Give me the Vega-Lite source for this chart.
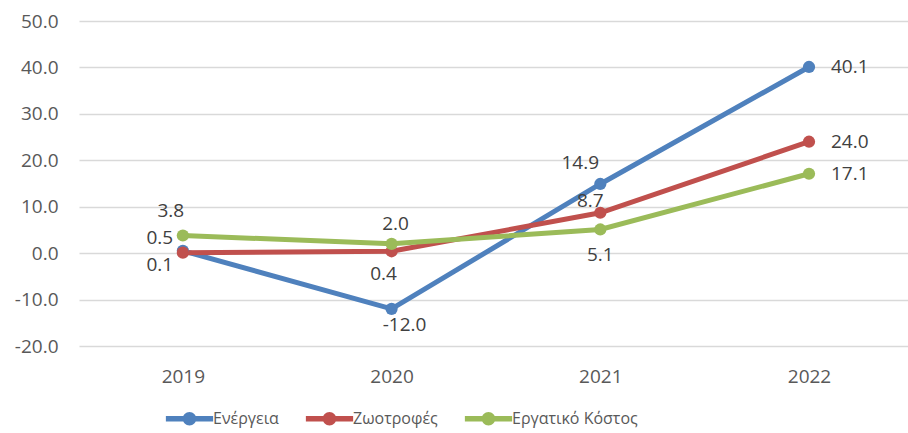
{
  "$schema": "https://vega.github.io/schema/vega-lite/v6.json",
  "width": 829,
  "height": 325,
  "autosize": {"type": "none"},
  "padding": {"left": 79, "top": 21, "right": 0, "bottom": 87},
  "background": "white",
  "config": {"view": {"stroke": null}, "font": "Open Sans",
    "locale": {"number": {"decimal": ".", "thousands": ",", "grouping": [3], "currency": ["$", ""], "minus": "-"}}},
  "data": {"values": [
    {"series": "Ενέργεια", "year": "2019", "value": 0.5},
    {"series": "Ενέργεια", "year": "2020", "value": -12.0},
    {"series": "Ενέργεια", "year": "2021", "value": 14.9},
    {"series": "Ενέργεια", "year": "2022", "value": 40.1},
    {"series": "Ζωοτροφές", "year": "2019", "value": 0.1},
    {"series": "Ζωοτροφές", "year": "2020", "value": 0.4},
    {"series": "Ζωοτροφές", "year": "2021", "value": 8.7},
    {"series": "Ζωοτροφές", "year": "2022", "value": 24.0},
    {"series": "Εργατικό Κόστος", "year": "2019", "value": 3.8},
    {"series": "Εργατικό Κόστος", "year": "2020", "value": 2.0},
    {"series": "Εργατικό Κόστος", "year": "2021", "value": 5.1},
    {"series": "Εργατικό Κόστος", "year": "2022", "value": 17.1}
  ]},
  "encoding": {
    "x": {"field": "year", "type": "ordinal", "scale": {"type": "point", "padding": 0.486, "align": 0.512},
      "axis": {"title": null, "domain": false, "ticks": false, "grid": false, "labelAngle": 0, "labelPadding": 21, "labelFontSize": 19, "labelColor": "#595959", "labelFont": "Open Sans"}},
    "y": {"field": "value", "type": "quantitative", "scale": {"domain": [-20, 50], "nice": false, "zero": false},
      "axis": {"title": null, "values": [-20, -10, 0, 10, 20, 30, 40, 50], "format": ".1f", "domain": false, "ticks": false, "labelPadding": 21, "labelFontSize": 19, "labelColor": "#595959", "labelFont": "Open Sans", "gridColor": "#D9D9D9", "gridWidth": 1.5}}
  },
  "layer": [
    {
      "mark": {"type": "line", "strokeWidth": 5},
      "encoding": {
        "color": {"field": "series", "type": "nominal",
          "scale": {"domain": ["Ενέργεια", "Ζωοτροφές", "Εργατικό Κόστος"], "range": ["#4F81BD", "#C0504D", "#9BBB59"]},
          "legend": {"orient": "none", "legendX": 88, "legendY": 375, "direction": "horizontal", "title": null,
            "labelFontSize": 16, "labelColor": "#595959", "labelFont": "Open Sans",
            "symbolType": "M-1.05,-0.12H1.05V0.12H-1.05Z M-0.3,0A0.3,0.3 0 1,1 0.3,0A0.3,0.3 0 1,1 -0.3,0Z",
            "symbolSize": 2025, "columnPadding": 26, "labelOffset": 1,
            "encode": {"symbols": {"update": {"fill": {"scale": "color", "field": "value"}, "strokeWidth": {"value": 0}, "opacity": {"value": 1}}}}}
        },
        "order": {"field": "year"}
      }
    },
    {
      "mark": {"type": "point", "filled": true, "size": 150, "opacity": 1},
      "encoding": {"color": {"field": "series", "type": "nominal", "legend": null}}
    },
    {
      "transform": [{"filter": "datum.year == '2022'"}],
      "mark": {"type": "text", "align": "left", "dx": 22, "fontSize": 19, "color": "#404040"},
      "encoding": {"text": {"field": "value", "type": "quantitative", "format": ".1f"}}
    },
    {
      "transform": [{"filter": "datum.year == '2019' && datum.series == 'Εργατικό Κόστος'"}],
      "mark": {"type": "text", "dx": -12, "dy": -25, "fontSize": 19, "color": "#404040"},
      "encoding": {"text": {"field": "value", "type": "quantitative", "format": ".1f"}}
    },
    {
      "transform": [{"filter": "datum.year == '2019' && datum.series == 'Ενέργεια'"}],
      "mark": {"type": "text", "dx": -23, "dy": -13, "fontSize": 19, "color": "#404040"},
      "encoding": {"text": {"field": "value", "type": "quantitative", "format": ".1f"}}
    },
    {
      "transform": [{"filter": "datum.year == '2019' && datum.series == 'Ζωοτροφές'"}],
      "mark": {"type": "text", "dx": -23, "dy": 12, "fontSize": 19, "color": "#404040"},
      "encoding": {"text": {"field": "value", "type": "quantitative", "format": ".1f"}}
    },
    {
      "transform": [{"filter": "datum.year == '2020' && datum.series == 'Εργατικό Κόστος'"}],
      "mark": {"type": "text", "dx": 4, "dy": -20, "fontSize": 19, "color": "#404040"},
      "encoding": {"text": {"field": "value", "type": "quantitative", "format": ".1f"}}
    },
    {
      "transform": [{"filter": "datum.year == '2020' && datum.series == 'Ζωοτροφές'"}],
      "mark": {"type": "text", "dx": -8, "dy": 23, "fontSize": 19, "color": "#404040"},
      "encoding": {"text": {"field": "value", "type": "quantitative", "format": ".1f"}}
    },
    {
      "transform": [{"filter": "datum.year == '2020' && datum.series == 'Ενέργεια'"}],
      "mark": {"type": "text", "dx": 13, "dy": 16, "fontSize": 19, "color": "#404040"},
      "encoding": {"text": {"field": "value", "type": "quantitative", "format": ".1f"}}
    },
    {
      "transform": [{"filter": "datum.year == '2021' && datum.series == 'Ενέργεια'"}],
      "mark": {"type": "text", "dx": -20, "dy": -21, "fontSize": 19, "color": "#404040"},
      "encoding": {"text": {"field": "value", "type": "quantitative", "format": ".1f"}}
    },
    {
      "transform": [{"filter": "datum.year == '2021' && datum.series == 'Ζωοτροφές'"}],
      "mark": {"type": "text", "dx": -10, "dy": -12, "fontSize": 19, "color": "#404040"},
      "encoding": {"text": {"field": "value", "type": "quantitative", "format": ".1f"}}
    },
    {
      "transform": [{"filter": "datum.year == '2021' && datum.series == 'Εργατικό Κόστος'"}],
      "mark": {"type": "text", "dx": 0, "dy": 26, "fontSize": 19, "color": "#404040"},
      "encoding": {"text": {"field": "value", "type": "quantitative", "format": ".1f"}}
    }
  ]
}
